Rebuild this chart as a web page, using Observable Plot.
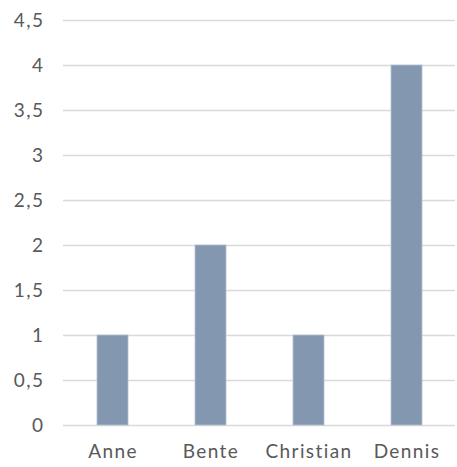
<!DOCTYPE html>
<html>
<head>
<meta charset="utf-8">
<script src="https://cdn.jsdelivr.net/npm/d3@7"></script>
<script src="https://cdn.jsdelivr.net/npm/@observablehq/plot@0.6"></script>
<style>
  html, body { margin: 0; padding: 0; background: #fff; }
  #chart svg { display: block; }
  #chart g[aria-label="x-axis tick label"] text { letter-spacing: 1.4px; }
  #chart g[aria-label="y-axis tick label"] text { letter-spacing: 1.5px; }
</style>
</head>
<body>
<div id="chart"></div>
<script>
const categories = ["Anne", "Bente", "Christian", "Dennis"];
const values = [1, 2, 1, 4];
const yTicks = [0, 0.5, 1, 1.5, 2, 2.5, 3, 3.5, 4, 4.5];

const data = categories.map((name, i) => ({name, value: values[i]}));

const chart = Plot.plot({
  width: 457,
  height: 467,
  marginLeft: 63,
  marginRight: 2,
  marginTop: 20,
  marginBottom: 42,
  style: {fontFamily: "Lato, 'Open Sans', sans-serif", fontSize: "19px", color: "#595959", background: "#fff"},
  x: {domain: categories, paddingInner: 0.684, paddingOuter: 0.342, label: null},
  y: {domain: [0, 4.5], label: null},
  marks: [
    Plot.gridY(yTicks, {stroke: "#d9d9d9", strokeOpacity: 1, strokeWidth: 1.5}),
    Plot.barY(data, {x: "name", y: "value", fill: "#8497B0", stroke: "#b4c0d0", strokeWidth: 0.8}),
    Plot.axisY(yTicks, {tickSize: 0, tickPadding: 19, tickFormat: d => String(d).replace(".", ","), fill: "#595959", fontSize: 19}),
    Plot.axisX({tickSize: 0, tickPadding: 19, fill: "#595959", fontSize: 19})
  ]
});
document.getElementById("chart").appendChild(chart);
</script>
</body>
</html>
